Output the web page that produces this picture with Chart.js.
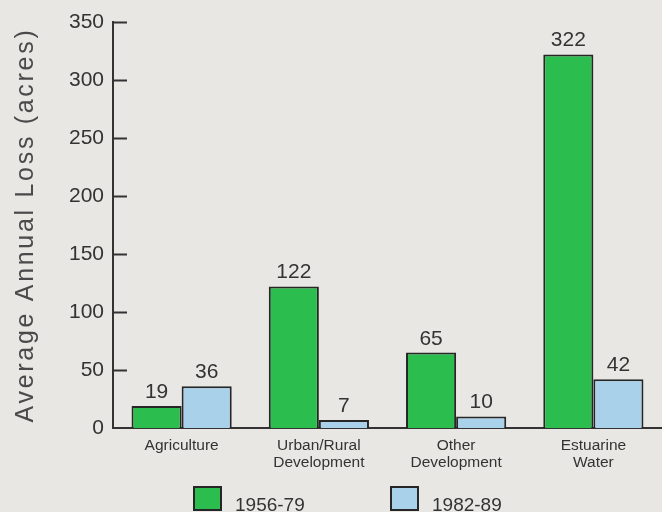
<!DOCTYPE html>
<html>
<head>
<meta charset="utf-8">
<script src="https://cdn.jsdelivr.net/npm/chart.js@4/dist/chart.umd.min.js"></script>
<style>
  html, body { margin: 0; padding: 0; background: #e9e7e3; }
  #wrap { width: 662px; height: 512px; position: relative; }
</style>
</head>
<body>
<div id="wrap"><canvas id="c" width="662" height="512"></canvas></div>
<script>
// Land-use categories (multi-line labels as arrays)
const categories = [
  ['Agriculture'],
  ['Urban/Rural', 'Development'],
  ['Other', 'Development'],
  ['Estuarine', 'Water']
];
const seriesNames = ['1956-79', '1982-89'];
const losses1956to79 = [19, 122, 65, 322];
const losses1982to89 = [36, 7, 10, 42];
const yTicks = [0, 50, 100, 150, 200, 250, 300, 350];
const yTitle = 'Average Annual Loss (acres)';

const FONT = '"Liberation Sans", Arial, Helvetica, sans-serif';
const INK = '#333333';
const GREEN = '#2bbd4e';
const BLUE = '#a9d2ea';
const EDGE = '#262626';

// Short tick marks pointing into the plot, the rotated axis title,
// the value labels above bars and the legend under the chart.
const decorations = {
  id: 'decorations',
  afterDraw(chart) {
    const ctx = chart.ctx;
    const y = chart.scales.y;
    const area = chart.chartArea;
    ctx.save();

    // inward tick marks
    ctx.strokeStyle = INK;
    ctx.lineWidth = 2;
    yTicks.forEach(v => {
      if (v === 0) return;
      const py = Math.round(y.getPixelForValue(v)) + 0.5;
      ctx.beginPath();
      ctx.moveTo(area.left, py);
      ctx.lineTo(area.left + 14, py);
      ctx.stroke();
    });

    // rotated, letter-spaced axis title
    ctx.save();
    ctx.translate(33, (area.top + area.bottom) / 2);
    ctx.rotate(-Math.PI / 2);
    ctx.font = '25px ' + FONT;
    ctx.fillStyle = '#4a4a4a';
    ctx.letterSpacing = '2.7px';
    ctx.textAlign = 'center';
    ctx.textBaseline = 'alphabetic';
    ctx.fillText(yTitle, 0, 0);
    ctx.restore();

    // value labels above bars
    ctx.font = '21px ' + FONT;
    ctx.fillStyle = INK;
    ctx.textAlign = 'center';
    ctx.textBaseline = 'alphabetic';
    chart.data.datasets.forEach((ds, i) => {
      const meta = chart.getDatasetMeta(i);
      meta.data.forEach((bar, j) => {
        ctx.fillText(String(ds.data[j]), bar.x, bar.y - 8);
      });
    });

    // legend
    const items = [
      { label: seriesNames[0], color: GREEN, x: 194 },
      { label: seriesNames[1], color: BLUE, x: 391 }
    ];
    ctx.font = '19px ' + FONT;
    ctx.textAlign = 'left';
    items.forEach(it => {
      ctx.fillStyle = it.color;
      ctx.fillRect(it.x, 487, 27, 23);
      ctx.strokeStyle = EDGE;
      ctx.lineWidth = 2;
      ctx.strokeRect(it.x, 487, 27, 23);
      ctx.fillStyle = INK;
      ctx.fillText(it.label, it.x + 41, 511);
    });

    ctx.restore();
  }
};

new Chart(document.getElementById('c'), {
  type: 'bar',
  data: {
    labels: categories,
    datasets: [
      {
        label: seriesNames[0],
        data: losses1956to79,
        backgroundColor: GREEN,
        borderColor: EDGE,
        borderWidth: 2
      },
      {
        label: seriesNames[1],
        data: losses1982to89,
        backgroundColor: BLUE,
        borderColor: EDGE,
        borderWidth: 2
      }
    ]
  },
  options: {
    responsive: false,
    animation: false,
    devicePixelRatio: 1,
    layout: { padding: { top: 22, right: 0, bottom: 0, left: 0 } },
    datasets: {
      bar: { categoryPercentage: 0.73, barPercentage: 1.0 }
    },
    plugins: {
      legend: { display: false },
      tooltip: { enabled: false },
      title: { display: false }
    },
    scales: {
      x: {
        afterFit(scale) { scale.height = 84; },
        grid: { display: false, drawTicks: false },
        border: { display: true, color: INK, width: 2 },
        ticks: {
          color: INK,
          font: { family: FONT, size: 15.5, lineHeight: 1.1 },
          padding: 9,
          maxRotation: 0,
          autoSkip: false
        }
      },
      y: {
        min: 0,
        max: 350,
        afterFit(scale) { scale.width = 113; },
        afterBuildTicks(scale) { scale.ticks = yTicks.map(v => ({ value: v })); },
        grid: { display: false, drawTicks: false },
        border: { display: true, color: INK, width: 2 },
        ticks: {
          color: INK,
          font: { family: FONT, size: 21 },
          padding: 9
        }
      }
    }
  },
  plugins: [decorations]
});
</script>
</body>
</html>
